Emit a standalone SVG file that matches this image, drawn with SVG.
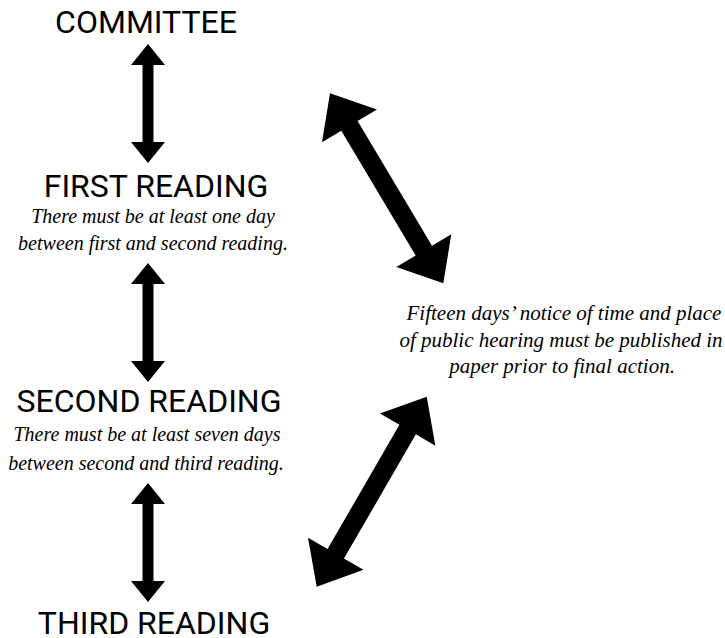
<svg xmlns="http://www.w3.org/2000/svg" xmlns:xlink="http://www.w3.org/1999/xlink" width="725" height="638" viewBox="0 0 725 638">
<style>
.title{font-family:Roboto,"Liberation Sans",sans-serif;font-size:32px;fill:#000;text-anchor:middle}
.note{font-family:"Liberation Serif","DejaVu Serif",serif;font-style:italic;font-size:20px;fill:#000;text-anchor:middle}
.note.wide{font-size:21px}
.arrow{fill:#000;stroke:none}
</style>
<defs>
<path id="vArrow" d="M0,0 L17,21 L5.5,21 L5.5,98 L17,98 L0,119 L-17,98 L-5.5,98 L-5.5,21 L-17,21 Z"/>
</defs>
<rect width="725" height="638" fill="#fff"/>
<g id="committee"><text class="title" x="146" y="33">COMMITTEE</text></g>
<g id="first-reading">
<text class="title" x="156" y="197">FIRST READING</text>
<text class="note" x="153" y="223">There must be at least one day</text>
<text class="note" x="153" y="250">between first and second reading.</text>
</g>
<g id="second-reading">
<text class="title" x="149" y="412">SECOND READING</text>
<text class="note" x="147" y="441">There must be at least seven days</text>
<text class="note" x="146" y="470">between second and third reading.</text>
</g>
<g id="third-reading"><text class="title" x="154" y="634">THIRD READING</text></g>
<g id="public-notice">
<text class="note wide" x="564" y="320">Fifteen days’ notice of time and place</text>
<text class="note wide" x="561" y="347">of public hearing must be published in</text>
<text class="note wide" x="562" y="373">paper prior to final action.</text>
</g>
<g id="connectors" class="arrow">
<use xlink:href="#vArrow" x="148" y="44"/>
<use xlink:href="#vArrow" x="148" y="263"/>
<use xlink:href="#vArrow" x="148" y="483"/>
<polygon points="330,93.3 376.94,109.55 357.62,121.07 432.0,245.79 451.32,234.27 443.3,283.3 396.36,267.05 415.68,255.53 341.30,130.81 321.98,142.33"/>
<polygon points="426.7,396.7 435.36,445.63 415.88,434.35 343.96,558.57 363.44,569.85 316.7,586.7 308.04,537.77 327.52,549.05 399.44,424.83 379.96,413.55"/>
</g>
</svg>
